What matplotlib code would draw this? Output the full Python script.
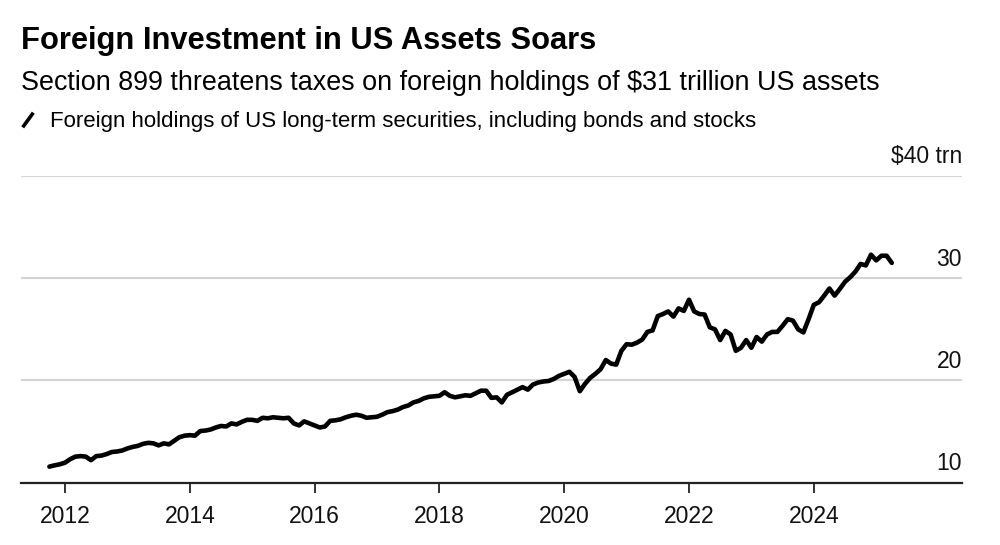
import matplotlib
matplotlib.use('Agg')
import matplotlib.pyplot as plt
import matplotlib.transforms as mtransforms
from matplotlib.lines import Line2D
import numpy as np

plt.rcParams['font.family'] = ['Liberation Sans', 'DejaVu Sans']

# month-end values, $ trillion (Sep 2011 .. Mar 2025)
start_year, start_month = 2011, 9
holdings = [
    # 2011 Sep-Dec
    11.57, 11.7, 11.8, 11.96,
    # 2012
    12.3, 12.55, 12.6, 12.55, 12.2, 12.6, 12.65, 12.8, 13.0, 13.05, 13.15, 13.35,
    # 2013
    13.5, 13.6, 13.8, 13.9, 13.85, 13.65, 13.85, 13.75, 14.1, 14.45, 14.6, 14.65,
    # 2014
    14.6, 15.05, 15.1, 15.2, 15.4, 15.55, 15.5, 15.8, 15.7, 15.95, 16.15, 16.15,
    # 2015
    16.05, 16.35, 16.3, 16.4, 16.35, 16.3, 16.35, 15.8, 15.6, 16.0, 15.8, 15.6,
    # 2016
    15.4, 15.5, 16.05, 16.1, 16.2, 16.4, 16.55, 16.65, 16.55, 16.35, 16.4, 16.45,
    # 2017
    16.65, 16.9, 17.0, 17.15, 17.4, 17.55, 17.85, 18.0, 18.25, 18.4, 18.45, 18.5,
    # 2018
    18.85, 18.5, 18.35, 18.45, 18.55, 18.5, 18.75, 19.0, 19.0, 18.3, 18.35, 17.85,
    # 2019
    18.6, 18.85, 19.1, 19.35, 19.1, 19.6, 19.8, 19.9, 19.95, 20.15, 20.45, 20.65,
    # 2020
    20.85, 20.35, 18.95, 19.67, 20.26, 20.65, 21.1, 22.0, 21.65, 21.55, 22.9, 23.55,
    # 2021
    23.5, 23.7, 24.0, 24.75, 24.9, 26.3, 26.5, 26.75, 26.25, 27.05, 26.8, 27.9,
    # 2022
    26.75, 26.5, 26.45, 25.2, 25.0, 23.95, 24.85, 24.5, 22.9, 23.2, 23.95, 23.2,
    # 2023
    24.25, 23.8, 24.5, 24.75, 24.75, 25.35, 26.0, 25.85, 25.0, 24.7, 26.0, 27.4,
    # 2024
    27.65, 28.3, 29.0, 28.3, 28.95, 29.65, 30.1, 30.65, 31.4, 31.25, 32.3, 31.75,
    # 2025 Jan-Mar
    32.2, 32.2, 31.5,
]

xtick_years = [2012, 2014, 2016, 2018, 2020, 2022, 2024]
ytick_vals = [10, 20, 30, 40]
ytick_labels = ['10', '20', '30', '$40 trn']

title = 'Foreign Investment in US Assets Soars'
subtitle = 'Section 899 threatens taxes on foreign holdings of $31 trillion US assets'
legend_label = 'Foreign holdings of US long-term securities, including bonds and stocks'

# month-end positions as decimal years
n = len(holdings)
months = start_month + np.arange(n)
x = start_year + months / 12.0

fig = plt.figure(figsize=(10, 5.45), dpi=100)
ax = fig.add_axes([0.021, 1 - 482.7 / 545, 0.941, (482.7 - 176) / 545])

ax.plot(x, holdings, color='black', lw=3.3, solid_joinstyle='round', solid_capstyle='round', zorder=3)

ax.set_xlim(2011.295, 2026.375)
ax.set_ylim(10, 40)

ax.set_yticks(ytick_vals)
ax.yaxis.grid(True, color='#d4d4d4', lw=1.5)
ax.tick_params(axis='y', length=0, labelleft=False, labelright=False)

ax.set_xticks(xtick_years)
ax.set_xticklabels([str(y) for y in xtick_years])
ax.tick_params(axis='x', length=7, width=1.3, pad=9, labelsize=16.5, color='#222222', labelcolor='#111111')

for s in ['top', 'left', 'right']:
    ax.spines[s].set_visible(False)
ax.spines['bottom'].set_color('#222222')
ax.spines['bottom'].set_linewidth(1.6)
ax.spines['bottom'].set_zorder(4)

offset = mtransforms.ScaledTranslation(0, 0.127, fig.dpi_scale_trans)
for v, lab in zip(ytick_vals, ytick_labels):
    ax.text(1.0, v, lab, transform=ax.get_yaxis_transform() + offset,
            ha='right', va='baseline', fontsize=16.5, color='#111111')

fig.text(0.021, 1 - 49 / 545, title, fontsize=22.2, fontweight='bold', va='baseline', color='black')
fig.text(0.021, 1 - 90 / 545, subtitle, fontsize=19.4, va='baseline', color='black')
fig.text(0.050, 1 - 127.3 / 545, legend_label, fontsize=16, va='baseline', color='black')
fig.add_artist(Line2D([22.7 / 1000, 33.3 / 1000], [1 - 127.3 / 545, 1 - 112.7 / 545],
                      lw=2.6, color='black', solid_capstyle='butt', transform=fig.transFigure))

fig.savefig('out.png', dpi=100)
